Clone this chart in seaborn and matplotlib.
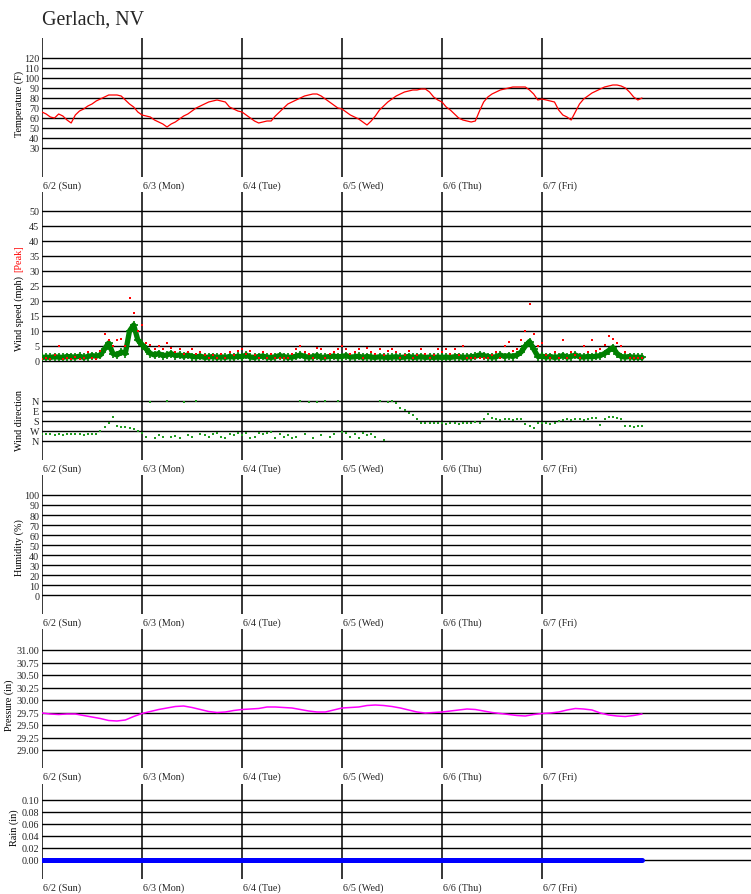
import numpy as np
import matplotlib
matplotlib.use("Agg")
import matplotlib.pyplot as plt
import seaborn as sns

# hourly readings from 6/2 00:00 to 6/8 00:00
hours = np.arange(145)
pres_hours = np.arange(0, 145, 2)

temp_f = [66, 64, 61, 60, 64, 62, 58, 55, 63, 67, 69, 72, 74, 77, 79, 81, 83, 83, 83, 82, 78, 74, 71, 66,
          63, 62, 61, 58, 56, 54, 51, 54, 56, 59, 62, 64, 67, 70, 72, 74, 76, 77, 78, 77, 76, 71, 69, 67,
          66, 63, 60, 57, 55, 56, 57, 57, 62, 66, 70, 74, 76, 78, 80, 82, 83, 84, 84, 82, 79, 76, 73, 70,
          69, 66, 63, 61, 59, 56, 53, 57, 62, 68, 72, 76, 79, 82, 84, 86, 87, 88, 88, 89, 89, 86, 81, 78,
          76, 71, 68, 64, 60, 58, 57, 56, 57, 67, 76, 81, 84, 86, 88, 89, 90, 91, 91, 91, 91, 88, 84, 78,
          79, 78, 77, 76, 68, 63, 61, 58, 66, 74, 79, 82, 85, 87, 89, 91, 92, 93, 93, 92, 90, 86, 81, 78, 80]

wind_avg = [1.2, 1.3, 1.2, 1.4, 1.3, 1.2, 1.5, 1.4, 1.3, 1.6, 1.2, 1.5, 1.8, 1.6, 2.0, 4.0, 6.0, 2.5, 2.0, 3.0, 2.5, 10.0, 12.0, 7.0,
            5.5, 4.0, 2.5, 2.0, 2.5, 1.8, 2.0, 2.5, 1.8, 2.0, 1.6, 2.0, 1.5, 1.4, 1.6, 1.2, 1.3, 1.5, 1.2, 1.4, 1.2, 1.5, 1.3, 1.6,
            1.4, 2.0, 1.3, 1.2, 1.5, 1.6, 1.3, 1.2, 1.4, 1.8, 1.5, 1.2, 1.3, 1.6, 2.0, 1.5, 1.3, 1.4, 1.8, 1.2, 1.3, 1.5, 1.6, 1.4,
            1.5, 1.8, 1.3, 1.4, 1.6, 1.2, 1.5, 1.3, 1.2, 1.4, 1.3, 1.2, 1.3, 1.4, 1.2, 1.3, 1.5, 1.2, 1.3, 1.4, 1.2, 1.3, 1.2, 1.3,
            1.2, 1.3, 1.2, 1.4, 1.5, 1.2, 1.3, 1.4, 1.6, 2.0, 1.8, 1.5, 1.3, 1.4, 2.0, 1.5, 1.8, 1.5, 2.0, 3.0, 5.0, 6.5, 4.0, 1.5,
            1.6, 1.3, 1.5, 1.2, 1.4, 1.8, 1.3, 1.5, 2.0, 1.4, 1.3, 1.5, 1.4, 1.6, 1.8, 2.5, 3.5, 4.5, 2.5, 1.5, 1.3, 1.5, 1.2, 1.3, 1.2]

wind_peak = [0.8, 1.0, 0.8, 2.0, 5.0, 0.8, 1.0, 0.8, 1.5, 0.8, 1.0, 3.0, 1.0, 0.8, 3.5, 9.0, 7.0, 5.0, 7.0, 7.5, 5.0, 21.0, 16.0, 10.0,
             12.0, 6.0, 5.5, 4.0, 5.0, 4.0, 6.0, 4.5, 3.0, 4.0, 2.5, 3.0, 4.0, 2.5, 3.0, 2.0, 1.0, 2.0, 1.0, 2.5, 1.0, 3.0, 2.0, 3.5,
             4.0, 2.5, 3.5, 2.0, 1.0, 3.0, 1.0, 2.5, 1.0, 1.0, 1.0, 1.0, 2.5, 4.0, 5.0, 3.0, 2.5, 1.0, 4.5, 4.0, 1.0, 2.5, 3.0, 4.0,
             5.0, 4.0, 2.5, 3.0, 4.0, 1.0, 4.5, 3.0, 2.5, 4.0, 2.0, 3.5, 4.0, 3.0, 1.0, 2.0, 3.5, 1.0, 2.0, 4.0, 2.5, 1.0, 2.0, 4.0,
             3.0, 4.0, 2.5, 4.0, 2.0, 5.0, 1.0, 1.0, 1.0, 1.0, 1.0, 1.0, 2.0, 3.0, 1.0, 5.0, 6.5, 3.5, 4.0, 7.0, 10.0, 19.0, 9.0, 5.0,
             6.0, 2.0, 1.0, 3.0, 1.0, 7.0, 1.0, 3.0, 2.0, 1.0, 5.0, 3.0, 7.0, 3.5, 4.0, 5.5, 8.5, 7.5, 6.0, 5.0, 3.0, 1.0, 1.0, 1.0, 1.0]

wind_dir = [300, 295, 300, 310, 300, 305, 295, 300, 300, 300, 305, 300, 300, 295, 270, 230, 200, 140, 225, 230, 230, 240, 255, 270,
            290, 320, 5, 330, 310, 320, 0, 325, 315, 330, 5, 310, 320, 0, 300, 310, 320, 300, 290, 320, 330, 300, 310, 290,
            310, 290, 330, 320, 290, 300, 285, 280, 330, 300, 325, 310, 335, 320, 0, 300, 5, 330, 10, 310, 0, 320, 300, 0,
            280, 290, 320, 300, 330, 290, 310, 300, 320, 0, 350, 5, 0, 20, 60, 80, 110, 130, 160, 195, 200, 200, 200, 200,
            200, 205, 200, 200, 210, 200, 200, 200, 190, 200, 160, 120, 150, 160, 170, 165, 160, 175, 165, 160, 205, 225, 240, 200,
            200, 200, 205, 195, 180, 175, 160, 170, 165, 160, 175, 160, 155, 150, 215, 160, 145, 140, 150, 165, 225, 225, 230, 225, 225]

pressure = [29.74, 29.72, 29.71, 29.72, 29.72, 29.69, 29.66, 29.63, 29.59, 29.58, 29.60, 29.67,
            29.73, 29.77, 29.81, 29.84, 29.87, 29.88, 29.85, 29.81, 29.77, 29.75, 29.76, 29.79,
            29.81, 29.82, 29.83, 29.86, 29.86, 29.85, 29.84, 29.81, 29.78, 29.76, 29.76, 29.80,
            29.84, 29.85, 29.86, 29.89, 29.90, 29.89, 29.87, 29.84, 29.80, 29.76, 29.74, 29.75,
            29.76, 29.78, 29.80, 29.82, 29.81, 29.78, 29.75, 29.73, 29.71, 29.69, 29.68, 29.71,
            29.73, 29.74, 29.76, 29.80, 29.83, 29.82, 29.80, 29.74, 29.70, 29.68, 29.67, 29.69, 29.72]

rain = [0.0] * 145

day_labels = ["6/2 (Sun)", "6/3 (Mon)", "6/4 (Tue)", "6/5 (Wed)", "6/6 (Thu)", "6/7 (Fri)"]
temp_ticks = list(range(30, 130, 10))
speed_ticks = list(range(0, 55, 5))
dir_ticks = [0, 90, 180, 270, 360]
dir_labels = ["N", "E", "S", "W", "N"]
hum_ticks = list(range(0, 110, 10))
pres_ticks = [29.00, 29.25, 29.50, 29.75, 30.00, 30.25, 30.50, 30.75, 31.00]
rain_ticks = [0.00, 0.02, 0.04, 0.06, 0.08, 0.10]

sns.set_style("white")
plt.rcParams['font.family'] = ['Liberation Serif', 'DejaVu Serif']

W, H, L = 751, 895, 42
fig = plt.figure(figsize=(W / 100, H / 100), dpi=100)


def panel(top, bottom, ylim):
    ax = fig.add_axes([L / W, 1 - bottom / H, (W - L) / W, (bottom - top) / H])
    ax.set_xlim(0, 7.09)
    ax.set_ylim(*ylim)
    for s in ax.spines.values():
        s.set_visible(False)
    ax.patch.set_alpha(0)
    return ax


def grid(ax, ticks, labels=None):
    for v in ticks:
        ax.axhline(v, color='black', lw=1.0, zorder=1)
    ax.set_yticks(ticks)
    ax.set_yticklabels(labels if labels else [str(t) for t in ticks])
    ax.tick_params(axis='y', length=0, pad=2, labelsize=7.3)


def time_axis(ax):
    for d in range(6):
        ax.axvline(d, color='black', lw=1.1, zorder=1)
    ax.set_xticks(np.arange(0, 6, 0.25))
    ax.set_xticks(hours / 24, minor=True)
    ax.tick_params(axis='x', which='major', direction='in', length=4.2, width=0.7,
                   color='black', labelbottom=False)
    ax.tick_params(axis='x', which='minor', direction='in', length=1.4, width=0.9, color='#333333')
    for d, lab in enumerate(day_labels):
        ax.annotate(lab, xy=(d, 0), xycoords=('data', 'axes fraction'), xytext=(0.5, -2.5),
                    textcoords='offset points', ha='left', va='top', fontsize=7.3)
    ax.set_xlabel('')
    ax.set_ylabel('')


def ylabel(x, y, text, color='black'):
    fig.text(x / W, 1 - y / H, text, rotation=90, ha='center', va='center',
             fontsize=7.3, color=color)


fig.text(L / W, 1 - 25 / H, "Gerlach, NV", fontsize=14.4, va='baseline', ha='left')

# temperature
ax_t = panel(39, 178, (1, 140))
grid(ax_t, temp_ticks)
sns.lineplot(x=hours / 24, y=temp_f, color='red', lw=0.9, ax=ax_t, zorder=3)
time_axis(ax_t)
ylabel(19, 104, "Temperature (F)")

# wind speed and direction share one panel
ws_top, ws_bot = 193, 461
ax_ws = panel(ws_top, ws_bot, ((362 - ws_bot) / 3, (362 - ws_top) / 3))
grid(ax_ws, speed_ticks)
sns.lineplot(x=hours / 24, y=wind_avg, color='green', lw=3.8, ax=ax_ws, zorder=3)
sns.scatterplot(x=hours / 24, y=wind_avg, marker='+', s=34, color='green', linewidth=1.2,
                ax=ax_ws, zorder=4)
sns.scatterplot(x=hours / 24, y=wind_peak, marker='s', s=2.5, color='red', linewidth=0,
                ax=ax_ws, zorder=5)
time_axis(ax_ws)

ax_wd = panel(ws_top, ws_bot, ((ws_bot - 402) * 9, (ws_top - 402) * 9))
grid(ax_wd, dir_ticks, dir_labels)
sns.scatterplot(x=hours / 24, y=wind_dir, marker='s', s=3, color='#1f9a1f', linewidth=0,
                ax=ax_wd, zorder=3)
ax_wd.set_xticks([])
ax_wd.set_xlabel('')
ax_wd.set_ylabel('')
ylabel(19, 314, "Wind speed (mph)")
ylabel(19, 259, "[Peak]", color='red')
ylabel(19, 421, "Wind direction")

# humidity (no readings)
ax_h = panel(476, 615, (-19, 120))
grid(ax_h, hum_ticks)
time_axis(ax_h)
ylabel(19, 548, "Humidity (%)")

# pressure
ax_p = panel(630, 769, (29 + (751 - 769) * 0.02, 29 + (751 - 630) * 0.02))
grid(ax_p, pres_ticks, [f"{p:.2f}" for p in pres_ticks])
sns.lineplot(x=pres_hours / 24, y=pressure, color='#ff00ff', lw=1.1, ax=ax_p, zorder=3)
time_axis(ax_p)
ylabel(9, 705, "Pressure (in)")

# rain
ax_r = panel(785, 880, ((860.5 - 880) / 595, (860.5 - 785) / 595))
grid(ax_r, rain_ticks, [f"{r:.2f}" for r in rain_ticks])
sns.lineplot(x=hours / 24, y=rain, color='blue', lw=3.6, ax=ax_r, zorder=3)
time_axis(ax_r)
ylabel(14, 828, "Rain (in)")

fig.savefig("out.png", dpi=100)
